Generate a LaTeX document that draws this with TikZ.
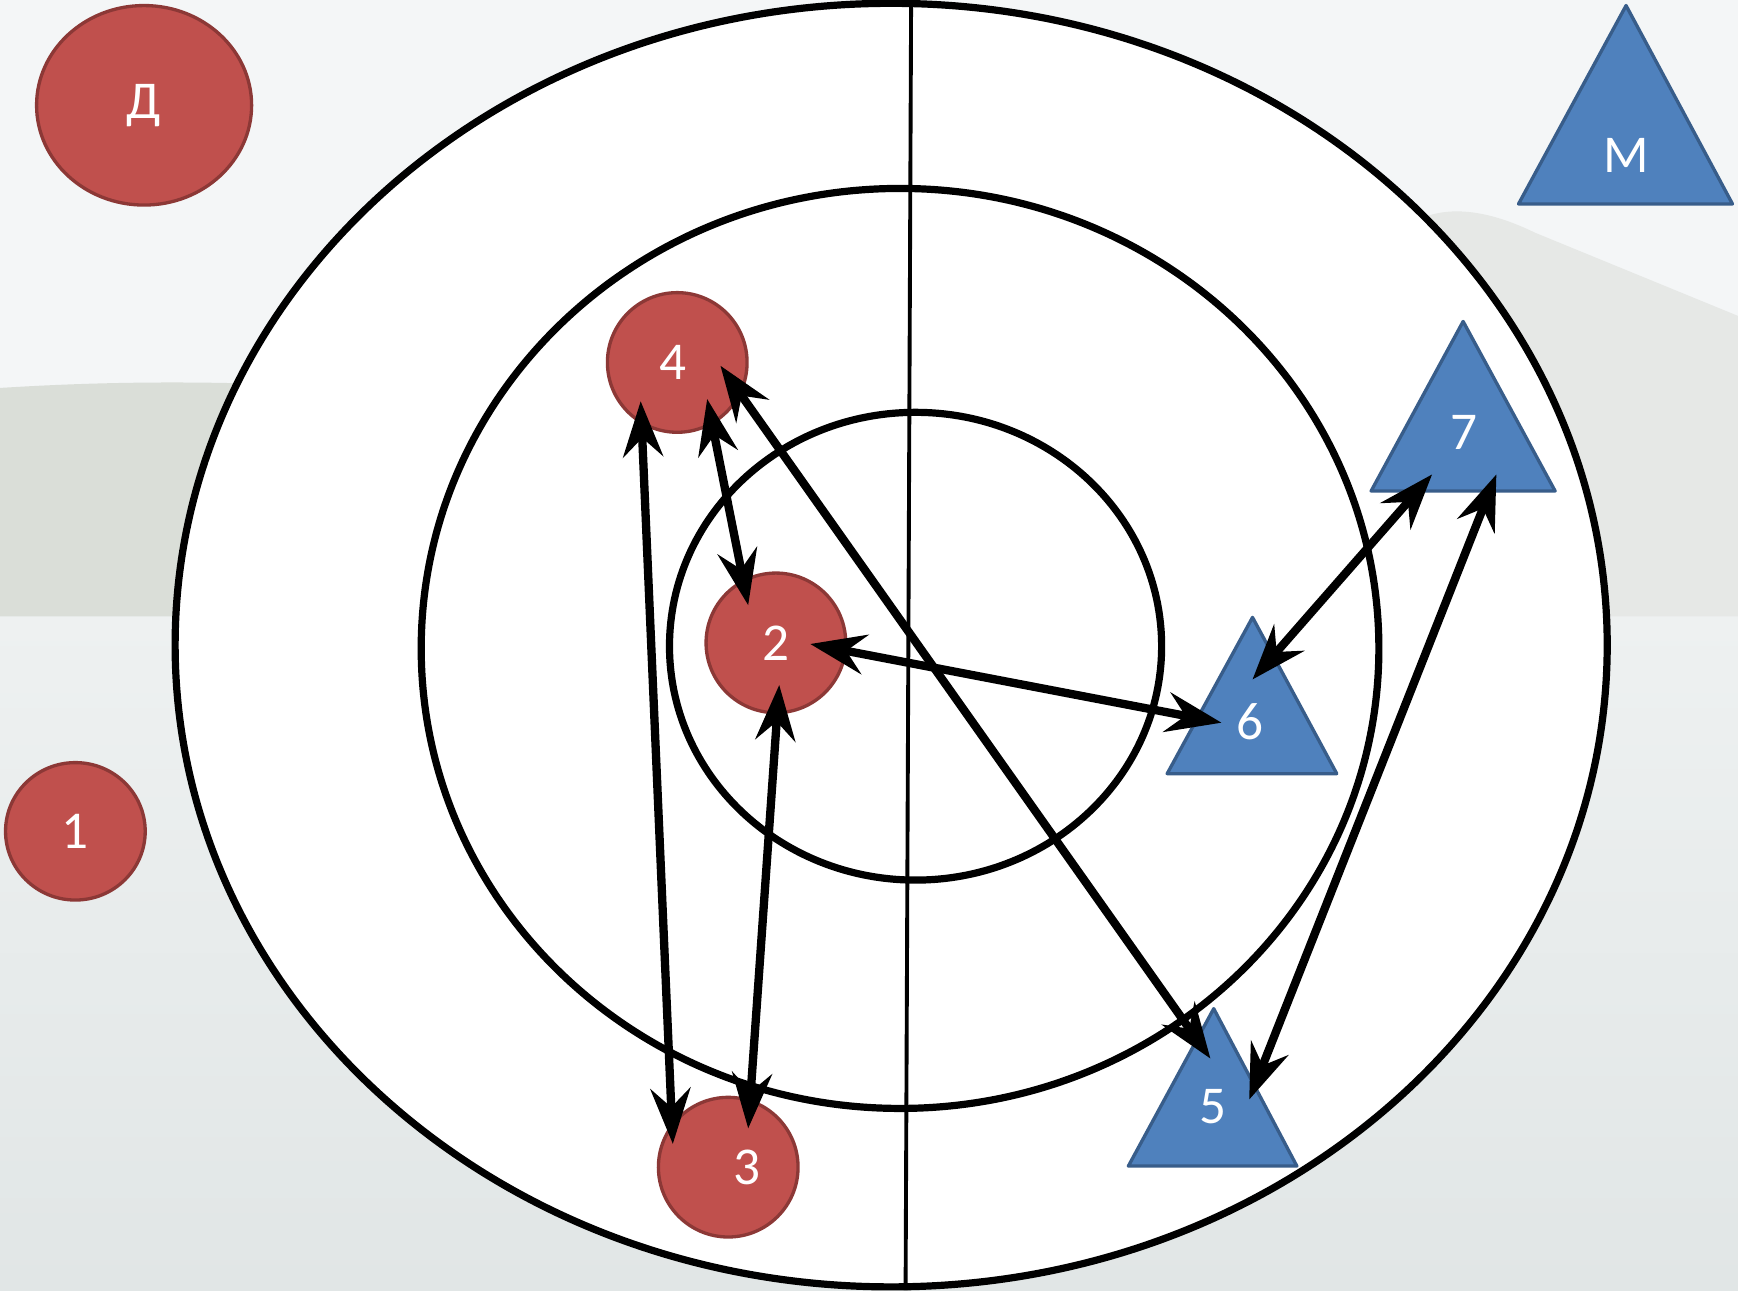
\documentclass[tikz,border=0pt]{standalone}
\usepackage{fontspec}
\setmainfont{Carlito}
\usetikzlibrary{arrows.meta,shapes.geometric}
\definecolor{redf}{HTML}{C0504D}
\definecolor{redd}{HTML}{8C3836}
\definecolor{bluef}{HTML}{4F81BD}
\definecolor{blued}{HTML}{385D8A}
\definecolor{skyc}{HTML}{F4F6F7}
\definecolor{hillc}{HTML}{DADED8}
\definecolor{hillr}{HTML}{E6E8E6}
\definecolor{seat}{HTML}{EEF1F1}
\definecolor{seab}{HTML}{E1E6E6}
\begin{document}
\begin{tikzpicture}[x=1pt,y=-1pt,
  ring/.style={line width=6.5pt, black},
  ball/.style={shape=ellipse, fill=redf, draw=redd, line width=3pt, inner sep=0pt,
    text=white, font=\fontsize{48}{54}\selectfont},
  tri/.style={fill=bluef, draw=blued, line width=3pt, line join=round},
  tlbl/.style={text=white, inner sep=0pt, font=\fontsize{48}{54}\selectfont},
  conn/.style={line width=7.5pt, black,
    {Stealth[length=50pt,width=36pt,inset=17pt]}-{Stealth[length=50pt,width=36pt,inset=17pt]}}]
\useasboundingbox (0,0) rectangle (1568,1164);
% background photo approximation
\fill[skyc] (0,0) rectangle (1568,1164);
\shade[top color=seat, bottom color=seab] (0,555) rectangle (1568,1164);
\fill[hillc] (0,350) .. controls (80,345) and (180,342) .. (320,350) -- (320,556) -- (0,556) -- cycle;
\fill[hillr] (1280,198) .. controls (1305,186) and (1340,188) .. (1385,210) -- (1568,285) -- (1568,556) -- (1280,556) -- cycle;
% rings
\draw[ring, fill=white] (804,582) ellipse (646 and 579);
\draw[ring] (812,585) ellipse (432 and 415);
\draw[ring] (826,583) ellipse (222 and 211);
\coordinate (vtop) at (822,0);
\coordinate (vbot) at (817,1164);
\draw[line width=3.5pt] (vtop) -- (vbot);
% red circles
\node[ball, minimum width=194pt, minimum height=180pt] (nD) at (130,95) {Д};
\node[ball, minimum width=126pt, minimum height=124pt] (n1) at (68,750) {1};
\node[ball, minimum width=126pt, minimum height=126pt] (n4) at (611,327) {\hspace*{-8pt}4};
\node[ball, minimum width=126pt, minimum height=126pt] (n2) at (700,580) {2};
\node[ball, minimum width=126pt, minimum height=126pt] (n3) at (657,1053) {\hspace*{34pt}3};
% blue triangles
\draw[tri] (1467,5) -- (1563,184) -- (1370,184) -- cycle;
\node[tlbl] (nM) at (1467,140) {М};
\draw[tri] (1320,290) -- (1403,443) -- (1237,443) -- cycle;
\node[tlbl] (n7) at (1321,390) {7};
\draw[tri] (1130,557) -- (1206,698) -- (1053,698) -- cycle;
\node[tlbl] (n6) at (1128,651) {6};
\draw[tri] (1095,910) -- (1170,1052) -- (1018,1052) -- cycle;
\node[tlbl] (n5) at (1094,998) {5};
% arrow end points
\coordinate (a43) at (578,362);  \coordinate (a34) at (607,1032);
\coordinate (a42) at (638,360);  \coordinate (a24) at (675,546);
\coordinate (a45) at (650,330);  \coordinate (a54) at (1092,955);
\coordinate (a23) at (703,618);  \coordinate (a32) at (675,1018);
\coordinate (a26) at (731,581);  \coordinate (a62) at (1102,652);
\coordinate (a76) at (1292,428); \coordinate (a67) at (1130,613);
\coordinate (a75) at (1350,428); \coordinate (a57) at (1127,992);
\draw[conn] (a43) -- (a34);
\draw[conn] (a42) -- (a24);
\draw[conn] (a45) -- (a54);
\draw[conn] (a23) -- (a32);
\draw[conn] (a26) -- (a62);
\draw[conn] (a76) -- (a67);
\draw[conn] (a75) -- (a57);
\end{tikzpicture}
\end{document}
